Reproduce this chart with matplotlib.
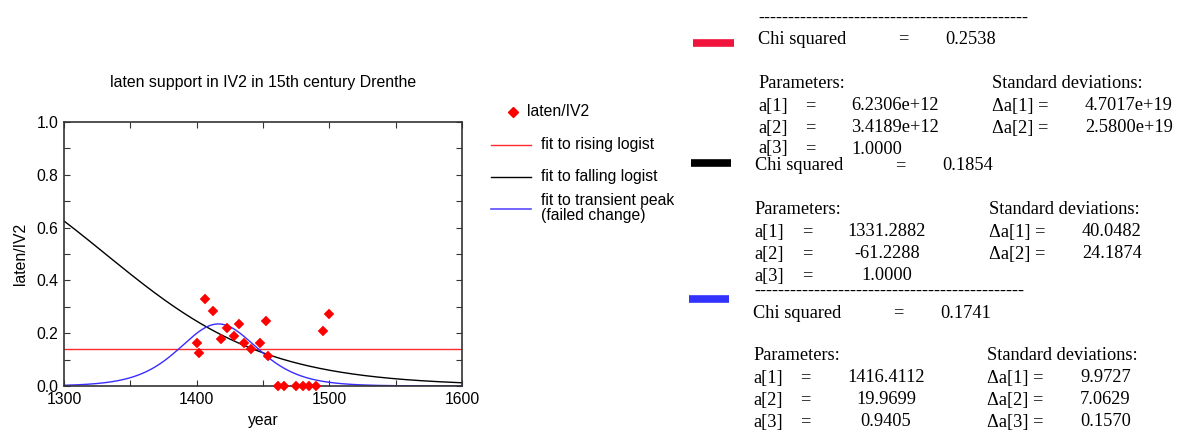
import numpy as np
import matplotlib
matplotlib.use("Agg")
import matplotlib.pyplot as plt
from matplotlib.ticker import MultipleLocator

# ---- data ----
years = [1400, 1402, 1406, 1412, 1418, 1423, 1428, 1432, 1436, 1441, 1448, 1452, 1454,
         1461, 1466, 1475, 1480, 1485, 1490, 1495, 1500]
ratio = [0.164, 0.124, 0.330, 0.284, 0.179, 0.221, 0.189, 0.233, 0.164, 0.141, 0.164,
         0.247, 0.113, 0.0, 0.0, 0.0, 0.0, 0.0, 0.0, 0.207, 0.271]

rising_params = [6.2306e12, 3.4189e12, 1.0000]
falling_params = [1331.2882, -61.2288, 1.0000]
peak_params = [1416.4112, 19.9699, 0.9405]

title = "laten support in IV2 in 15th century Drenthe"
legend_labels = ["laten/IV2", "fit to rising logist", "fit to falling logist",
                 "fit to transient peak\n(failed change)"]

W, H = 1177, 432
fig = plt.figure(figsize=(W / 100, H / 100), dpi=100)
sans = "Liberation Sans"
serif = "Liberation Serif"

def logist(x, p):
    return p[2] / (1 + np.exp(-(x - p[0]) / p[1]))

def peak(x, p):
    q = 1 / (1 + np.exp(-(x - p[0]) / p[1]))
    return p[2] * q * (1 - q)

ax = fig.add_axes([64 / W, 1 - 386 / H, (462 - 64) / W, (386 - 122) / H])
xs = np.linspace(1300, 1600, 600)
RED, BLUE = "#ff2a2a", "#3a2cff"
ax.plot(xs, logist(xs, rising_params), color=RED, lw=1.0)
ax.plot(xs, logist(xs, falling_params), color="black", lw=1.0)
ax.plot(xs, peak(xs, peak_params), color=BLUE, lw=1.0)
ax.plot(years, ratio, ls="none", marker="D", ms=5.3, mfc="#ff0000", mec="#ff0000",
        mew=0.3, clip_on=False, zorder=5)
ax.set_xlim(1300, 1600)
ax.set_ylim(0, 1.0)
ax.xaxis.set_major_locator(MultipleLocator(100))
ax.xaxis.set_minor_locator(MultipleLocator(50))
ax.yaxis.set_major_locator(MultipleLocator(0.2))
ax.yaxis.set_minor_locator(MultipleLocator(0.1))
ax.yaxis.set_major_formatter(matplotlib.ticker.FormatStrFormatter("%.1f"))
ax.tick_params(which="both", direction="in", top=True, right=True, length=4.3,
               width=0.8, color="#333333", labelsize=11.3, pad=4)
for lab in ax.get_xticklabels() + ax.get_yticklabels():
    lab.set_family(sans)
for s in ax.spines.values():
    s.set_color("#333333")
    s.set_linewidth(1.2)

# overlay in pixel coordinates for text/legend
ov = fig.add_axes([0, 0, 1, 1])
ov.set_xlim(0, W)
ov.set_ylim(H, 0)
ov.axis("off")

ov.text(263, 83, title, ha="center", va="center", fontsize=11.4, family=sans)
ov.text(263, 421, "year", ha="center", va="center", fontsize=11.3, family=sans)
ov.text(20, 254, "laten/IV2", ha="center", va="center", fontsize=11.3, family=sans,
        rotation=90)

# legend
ov.plot([513], [112], ls="none", marker="D", ms=5.3, mfc="#ff0000", mec="#ff0000")
ov.text(527, 112, legend_labels[0], va="center", fontsize=11.3, family=sans)
ov.plot([491, 531], [145, 145], color=RED, lw=1.0)
ov.text(541, 145, legend_labels[1], va="center", fontsize=11.3, family=sans)
ov.plot([491, 531], [177, 177], color="black", lw=1.0)
ov.text(541, 177, legend_labels[2], va="center", fontsize=11.3, family=sans)
ov.plot([491, 531], [209, 209], color="#5a4cff", lw=1.2)
ov.text(541, 208, legend_labels[3], va="center", fontsize=11.3, family=sans,
        linespacing=0.98)

# fit results panel
fs = 13.2
def T(x, y, s, ha="left"):
    ov.text(x, y, s, ha=ha, va="center", fontsize=fs, family=serif)

dash = "-" * 45
# block 1 (rising)
T(758, 18, dash)
ov.plot([693, 734], [43, 43], color="#f0143c", lw=5.5, solid_capstyle="butt")
T(758, 39, "Chi squared"); T(903, 39, "=", "center"); T(945, 39, "0.2538")
T(758, 84, "Parameters:"); T(992, 84, "Standard deviations:")
T(758, 106, "a[1]"); T(810, 106, "=", "center"); T(851, 106, f"{rising_params[0]:.4e}")
T(992, 106, "\u0394a[1] ="); T(1085, 106, "4.7017e+19")
T(758, 128, "a[2]"); T(810, 128, "=", "center"); T(851, 128, f"{rising_params[1]:.4e}")
T(992, 128, "\u0394a[2] ="); T(1085, 128, "2.5800e+19")
T(758, 149, "a[3]"); T(810, 149, "=", "center"); T(851, 149, f"{rising_params[2]:.4f}")

# block 2 (falling)
ov.plot([691, 731], [163, 163], color="black", lw=5.5, solid_capstyle="butt")
T(755, 166, "Chi squared"); T(900, 166, "=", "center"); T(942, 166, "0.1854")
T(754, 210, "Parameters:"); T(989, 210, "Standard deviations:")
T(754, 232, "a[1]"); T(807, 232, "=", "center"); T(887, 232, f"{falling_params[0]:.4f}", "center")
T(989, 232, "\u0394a[1] ="); T(1082, 232, "40.0482")
T(754, 254, "a[2]"); T(807, 254, "=", "center"); T(887, 254, f"{falling_params[1]:.4f}", "center")
T(989, 254, "\u0394a[2] ="); T(1082, 254, "24.1874")
T(754, 276, "a[3]"); T(807, 276, "=", "center"); T(887, 276, f"{falling_params[2]:.4f}", "center")

# block 3 (peak)
T(754, 291, dash)
ov.plot([689, 729], [299, 299], color="#3333ff", lw=5.5, solid_capstyle="butt")
T(753, 313, "Chi squared"); T(898, 313, "=", "center"); T(940, 313, "0.1741")
T(753, 356, "Parameters:"); T(987, 356, "Standard deviations:")
T(753, 378, "a[1]"); T(805, 378, "=", "center"); T(886, 378, f"{peak_params[0]:.4f}", "center")
T(987, 378, "\u0394a[1] ="); T(1080, 378, "9.9727")
T(753, 400, "a[2]"); T(805, 400, "=", "center"); T(886, 400, f"{peak_params[1]:.4f}", "center")
T(987, 400, "\u0394a[2] ="); T(1080, 400, "7.0629")
T(753, 422, "a[3]"); T(805, 422, "=", "center"); T(886, 422, f"{peak_params[2]:.4f}", "center")
T(987, 422, "\u0394a[3] ="); T(1080, 422, "0.1570")

fig.savefig("out.png", dpi=100)
